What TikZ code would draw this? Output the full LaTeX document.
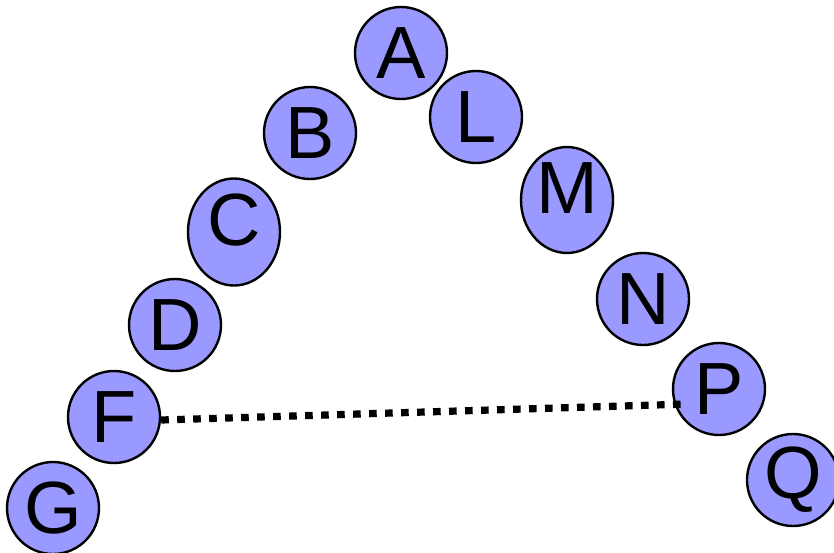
\documentclass[tikz,border=0pt]{standalone}
\usepackage{fontspec}
\setmainfont{Liberation Sans}
\usepackage{xcolor}
\usetikzlibrary{shapes.geometric}
\definecolor{vfill}{RGB}{153,153,255}

\tikzset{
  vertex/.style={circle, draw=black, line width=1.2pt, fill=vfill,
    minimum size=46pt, inner sep=0pt, font=\fontsize{37}{37}\selectfont},
  tallvertex/.style={vertex, ellipse, minimum width=46pt, minimum height=51pt,
    text depth=12pt},
  gap/.style={line width=3.6pt, dash pattern=on 3.8pt off 4.2pt}
}

\begin{document}
\begin{tikzpicture}[x=0.5pt, y=-0.5pt]
        \useasboundingbox (0,0) rectangle (834,552);
        \foreach \name/\x/\y in {A/401/53, B/310/133, D/175/325, F/114/417,
          G/53/508, L/476/117, N/643/299, P/719/389, Q/793/480}
        \node[vertex] (\name) at (\x,\y) {\name};
        \foreach \name/\x/\y in {C/234/232, M/567/200}
        \node[tallvertex] (\name) at (\x,\y) {\name};
        \coordinate (pend) at (688,404);
        \draw[gap] ([yshift=-1.5pt]F.east) -- (pend);
    \end{tikzpicture}
\end{document}
